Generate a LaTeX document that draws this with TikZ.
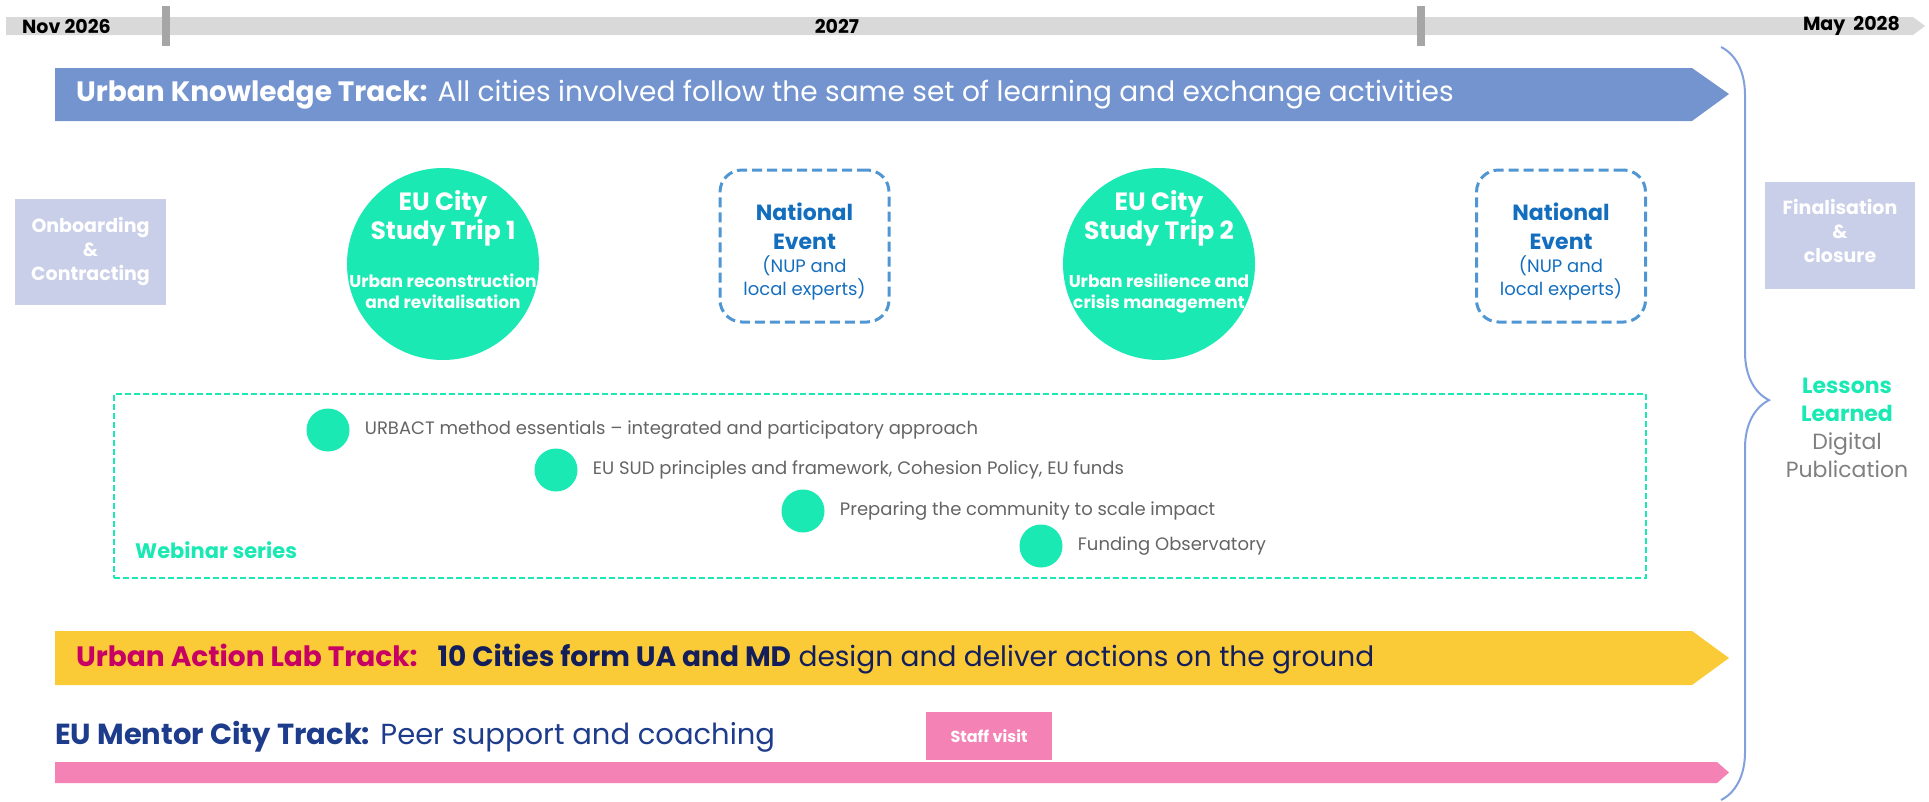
\documentclass[tikz,border=0pt]{standalone}
\usepackage{fontspec}
\setmainfont{Poppins}
\usetikzlibrary{positioning, decorations.pathreplacing}

\definecolor{linegray}{RGB}{217,217,217}
\definecolor{tickgray}{RGB}{166,166,166}
\definecolor{ukblue}{RGB}{116,148,208}
\definecolor{bracebl}{RGB}{130,160,220}
\definecolor{lavender}{RGB}{201,207,232}
\definecolor{tripteal}{RGB}{26,233,180}
\definecolor{natblue}{RGB}{80,150,210}
\definecolor{natText}{RGB}{20,110,190}
\definecolor{webgray}{RGB}{100,100,100}
\definecolor{pubgray}{RGB}{128,128,128}
\definecolor{ualyellow}{RGB}{250,203,54}
\definecolor{ualmagenta}{RGB}{200,0,100}
\definecolor{navy}{RGB}{20,30,90}
\definecolor{mentorblue}{RGB}{30,60,140}
\definecolor{mentorpink}{RGB}{244,130,180}

\newcommand{\fsz}[2]{\fontsize{#1}{#2}\selectfont}

\begin{document}
\begin{tikzpicture}[x=1pt, y=-1pt, inner sep=0pt, align=center,
  datetxt/.style={font=\fsz{19}{22}\bfseries, text=black},
  tracktxt/.style={font=\fsz{28}{32}, anchor=west},
  phasebox/.style={fill=lavender, text=white, minimum width=151pt, minimum height=106pt, font=\fsz{19}{24}\bfseries},
  tripcircle/.style={circle, fill=tripteal, minimum size=192pt},
  triptitle/.style={text=white, font=\fsz{25}{29}\bfseries},
  tripsub/.style={text=white, font=\fsz{17}{21}\bfseries},
  natbox/.style={draw=natblue, line width=3pt, dash pattern=on 10pt off 5pt, rounded corners=22pt, minimum width=169pt, minimum height=152pt},
  dot/.style={circle, fill=tripteal, minimum size=43pt},
  webtxt/.style={text=webgray, font=\fsz{18}{22}, anchor=west}]
\useasboundingbox (0,0) rectangle (1929,801);

% time line
\fill[linegray] (6,17) -- (1913,17) -- (1925,26) -- (1913,35) -- (6,35) -- cycle;
\fill[tickgray] (162,6) rectangle (170,46);
\fill[tickgray] (1417,6) rectangle (1425,46);
\node[datetxt, anchor=west] (start) at (22,26) {Nov 2026};
\node[datetxt] (mid) at (837,26) {2027};
\node[datetxt, anchor=east] (end) at (1900,26) {May~~2028};

% knowledge track
\fill[ukblue] (55,68) -- (1692,68) -- (1729,94) -- (1692,121) -- (55,121) -- cycle;
\node[tracktxt, text=white] (uk) at (76,95) {\textbf{Urban Knowledge Track:} All cities involved follow the same set of learning and exchange activities};

\node[phasebox] (onboard) at (90.5,251.5) {Onboarding\\\&\\Contracting};
\node[phasebox, minimum width=150pt, minimum height=107pt] (final) at (1840,235.5) {};
\node[text=white, font=\fsz{19}{24}\bfseries] (finaltxt) at (1840,231) {Finalisation\\\&\\closure};

\node[tripcircle] (trip1) at (443,264) {};
\node[triptitle] (trip1title) at (443,218) {EU City\\Study Trip 1};
\node[tripsub, below=28pt of trip1title] (trip1sub) {Urban reconstruction\\and revitalisation};

\node[tripcircle] (trip2) at (1159,264) {};
\node[triptitle] (trip2title) at (1159,218) {EU City\\Study Trip 2};
\node[tripsub, below=28pt of trip2title] (trip2sub) {Urban resilience and\\crisis management};

\foreach \cx [count=\i] in {804.5,1561} {
  \node[natbox] (nat\i) at (\cx,246) {};
  \node[text=natText, font=\fsz{22}{29}\bfseries] (nat\i title) at (\cx,226) {National\\Event};
  \node[text=natText, font=\fsz{18}{23}, below=6pt of nat\i title] (nat\i sub) {(NUP and\\local experts)};
}

% webinar series
\node[draw=tripteal, line width=2pt, dash pattern=on 6pt off 3pt, minimum width=1532pt, minimum height=184pt] (webinars) at (880,486) {};
\foreach \cx/\cy/\txt [count=\i] in {328/430/{URBACT method essentials – integrated and participatory approach},
    556/470/{EU SUD principles and framework, Cohesion Policy, EU funds},
    803/511/{Preparing the community to scale impact},
    1041/546/{Funding Observatory}} {
  \node[dot] (dot\i) at (\cx,\cy) {};
  \node[webtxt, right=15pt of dot\i] (web\i) {\txt};
}
\node[text=tripteal, font=\fsz{21}{25}\bfseries, anchor=west] (webtitle) at (135,550) {Webinar series};

% lessons learned
\node[text=pubgray, font=\fsz{22}{28}] (lessons) at (1847,428) {\textcolor{tripteal}{\bfseries Lessons}\\\textcolor{tripteal}{\bfseries Learned}\\Digital\\Publication};
\draw[bracebl, line width=2pt, decorate, decoration={brace, amplitude=48pt, aspect=0.469}] (1721,47) -- (1721,800);

% action lab track
\fill[ualyellow] (55,631) -- (1692,631) -- (1729,658) -- (1692,685) -- (55,685) -- cycle;
\node[tracktxt, text=navy] (ual) at (76,659) {\textbf{\textcolor{ualmagenta}{Urban Action Lab Track:}}\hspace{20pt}\textbf{10 Cities form UA and MD} design and deliver actions on the ground};

% mentor city track
\node[tracktxt, text=mentorblue, font=\fsz{29}{32}] (mentor) at (55,737) {\textbf{EU Mentor City Track:} Peer support and coaching};
\node[fill=mentorpink, text=white, font=\fsz{16}{20}\bfseries, minimum width=126pt, minimum height=48pt] (staff) at (989,736) {Staff visit};
\fill[mentorpink] (55,762) -- (1717,762) -- (1729,772.5) -- (1717,783) -- (55,783) -- cycle;
\end{tikzpicture}
\end{document}
